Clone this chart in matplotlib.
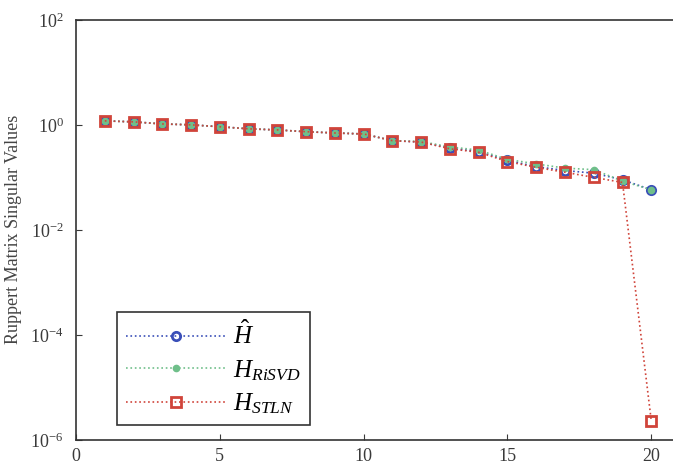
import matplotlib.pyplot as plt

plt.rcParams['font.family'] = 'Liberation Serif'
plt.rcParams['mathtext.fontset'] = 'custom'
plt.rcParams['mathtext.rm'] = 'Liberation Serif'
plt.rcParams['mathtext.it'] = 'Liberation Serif:italic'

# singular values of the Ruppert matrix, index 1..20
index = list(range(1, 21))
h_hat = [1.19, 1.14, 1.04, 1.0, 0.92, 0.84, 0.80, 0.74, 0.70, 0.67,
         0.50, 0.47, 0.36, 0.31, 0.21, 0.16, 0.135, 0.12, 0.09, 0.058]
h_risvd = [1.19, 1.14, 1.04, 1.0, 0.92, 0.84, 0.80, 0.74, 0.70, 0.67,
           0.50, 0.48, 0.38, 0.33, 0.22, 0.18, 0.15, 0.14, 0.085, 0.058]
h_stln = [1.19, 1.14, 1.04, 1.0, 0.92, 0.84, 0.80, 0.74, 0.70, 0.67,
          0.50, 0.47, 0.35, 0.30, 0.20, 0.155, 0.125, 0.10, 0.08, 2.3e-6]

fig = plt.figure(figsize=(6.73, 4.72), dpi=100)
# axes run a little past the right edge of the figure
ax = fig.add_axes([0.113, 0.068, 0.906, 0.89])

ax.semilogy(index, h_hat, ':', color='#3a4fb8', marker='o', markersize=6,
            markeredgewidth=2, markerfacecolor='none', lw=1.2, label=r'$\hat{H}$')
ax.semilogy(index, h_risvd, ':', color='#6fbf8a', marker='o', markersize=4,
            markeredgewidth=1.5, markerfacecolor='#6fbf8a', lw=1.2,
            label=r'$H_{RiSVD}$')
ax.semilogy(index, h_stln, ':', color='#d0443a', marker='s', markersize=7,
            markeredgewidth=2, markerfacecolor='none', lw=1.2,
            label=r'$H_{STLN}$')

ax.set_xlim(0, 21.2)
ax.set_ylim(1e-6, 1e2)
ax.set_xticks([0, 5, 10, 15, 20])
ax.set_yticks([1e-6, 1e-4, 1e-2, 1e0, 1e2])
ax.minorticks_off()
ax.tick_params(direction='in', length=4, labelsize=13, colors='#3a3a3a',
               pad=9, right=True, top=False)
ax.tick_params(axis='x', pad=6)
for s in ax.spines.values():
    s.set_color('#333333')
    s.set_linewidth(1.2)

ax.set_ylabel('Ruppert Matrix Singular Values', fontsize=13, color='#444444',
              labelpad=6)

leg = ax.legend(loc='lower left', bbox_to_anchor=(0.067, 0.036),
                borderaxespad=0, fontsize=18, handlelength=4.0,
                handletextpad=0.3, labelspacing=0.35, fancybox=False,
                framealpha=1, edgecolor='#333333', borderpad=0.35)
leg.get_frame().set_linewidth(1.2)

fig.savefig('out.png', dpi=100)
